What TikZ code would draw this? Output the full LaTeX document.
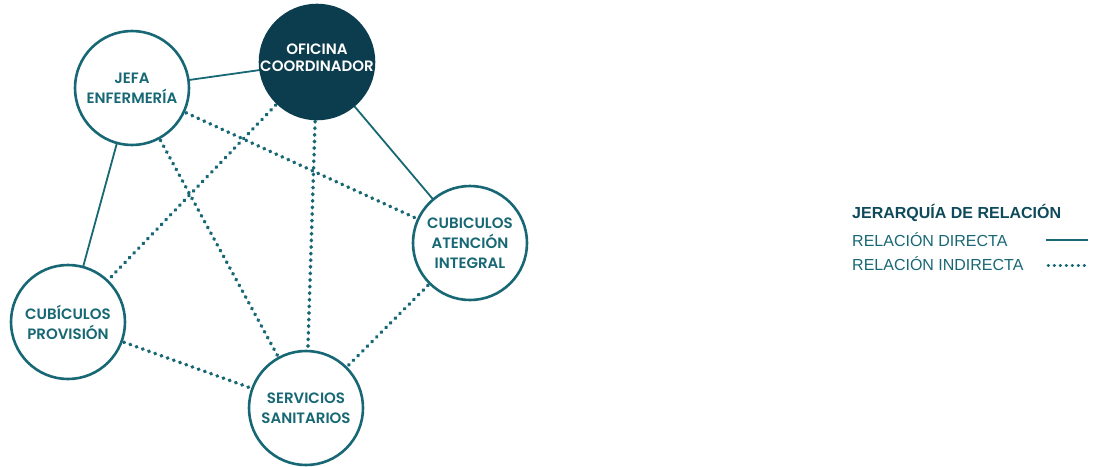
\documentclass[tikz,border=0pt]{standalone}
\usepackage{fontspec}
\usetikzlibrary{calc}
\setmainfont{Liberation Sans}
\newfontfamily\nodefont{Poppins}[UprightFont=* Medium, BoldFont=* SemiBold]
\definecolor{teal1}{HTML}{176874}
\definecolor{dark1}{HTML}{0B3D4F}
\begin{document}
\begin{tikzpicture}[x=1pt,y=-1pt,
  circ/.style={circle,draw=teal1,line width=2.6pt,fill=white,minimum size=114pt,inner sep=0pt,
     text=teal1,font=\nodefont\bfseries\fontsize{15}{20}\selectfont,align=center},
  darkcirc/.style={circ,fill=dark1,draw=dark1,text=white},
  ctext/.style={text=white,font=\nodefont\bfseries\fontsize{15}{17}\selectfont,align=center,inner sep=0pt},
  direct/.style={draw=teal1,line width=1.8pt},
  indirect/.style={draw=teal1,line width=3.6pt,line cap=round,dash pattern=on 0.6pt off 6pt},
  legtext/.style={anchor=west,text=teal1,font=\fontsize{16}{18}\selectfont,inner sep=0pt}]
\useasboundingbox (0,0) rectangle (1099,466);
\coordinate (jc) at (132,88);
\coordinate (oc) at (317,62);
\coordinate (ac) at (470,243);
\coordinate (pc) at (68,322);
\coordinate (sc) at (306,408);
% connectors drawn first, nodes on top
\draw[indirect] (jc) -- (ac);
\draw[indirect] (jc) -- (sc);
\draw[indirect] (oc) -- (pc);
\draw[indirect] (oc) -- (sc);
\draw[indirect] (pc) -- (sc);
\draw[indirect] (ac) -- (sc);
\draw[direct] (jc) -- (oc);
\draw[direct] (jc) -- (pc);
\draw[direct] (oc) -- (ac);
\node[circ] (jefa) at (jc) {JEFA\\ENFERMERÍA};
\node[darkcirc] (ofi) at (oc) {};
\node[ctext] (ofitxt) at ($(oc)+(0,-4)$) {OFICINA\\COORDINADOR};
\node[circ] (aten) at (ac) {CUBICULOS\\ATENCIÓN\\INTEGRAL};
\node[circ] (prov) at (pc) {CUBÍCULOS\\PROVISIÓN};
\node[circ] (serv) at (sc) {SERVICIOS\\SANITARIOS};
% legend
\node[legtext,font=\bfseries\fontsize{16}{18}\selectfont,text=dark1!70!teal1] (lt) at (852,213) {JERARQUÍA DE RELACIÓN};
\node[legtext] (ld) at (852,240) {RELACIÓN DIRECTA};
\node[legtext] (li) at (852,264) {RELACIÓN INDIRECTA};
\coordinate (d1) at (1046,240);
\coordinate (d2) at (1088,240);
\coordinate (i1) at (1048,265);
\coordinate (i2) at (1086,265);
\draw[direct,line width=1.4pt] (d1) -- (d2);
\draw[indirect,line width=3pt,dash pattern=on 0.5pt off 5.5pt] (i1) -- (i2);
\end{tikzpicture}
\end{document}
